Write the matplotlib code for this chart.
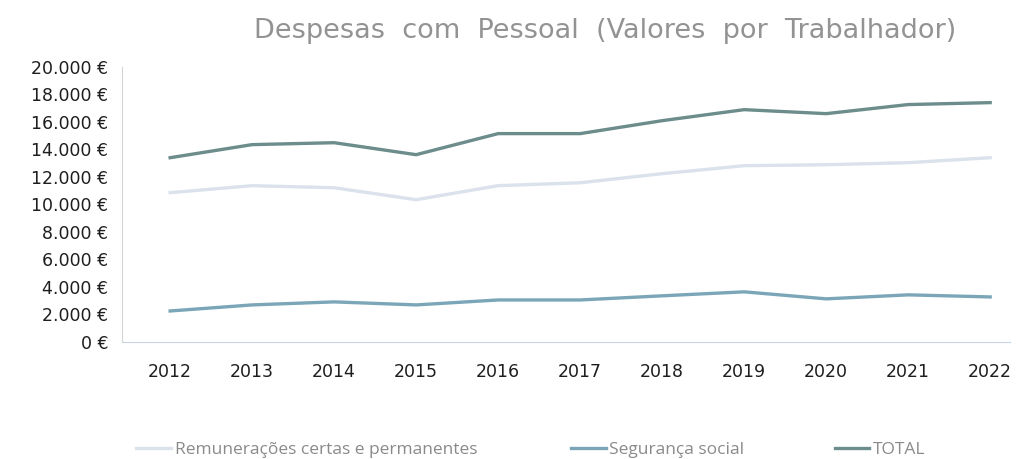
import matplotlib
matplotlib.use("Agg")
import matplotlib.pyplot as plt
from matplotlib.ticker import FuncFormatter

years = [2012, 2013, 2014, 2015, 2016, 2017, 2018, 2019, 2020, 2021, 2022]
remuneracoes = [10840, 11350, 11200, 10330, 11350, 11560, 12220, 12800, 12870, 13020, 13380]
seguranca = [2250, 2690, 2910, 2690, 3050, 3050, 3350, 3640, 3130, 3420, 3270]
total = [13380, 14330, 14470, 13600, 15130, 15130, 16070, 16870, 16580, 17240, 17380]
labels = ["Remunerações certas e permanentes", "Segurança social", "TOTAL"]
title = "Despesas com Pessoal (Valores por Trabalhador)"

fig = plt.figure(figsize=(10.18, 4.59), dpi=100)
ax = fig.add_axes([0.12, 0.255, 0.872, 0.60])

x = list(range(len(years)))
l1, = ax.plot(x, remuneracoes, color="#dbe2ec", lw=2.4)
l2, = ax.plot(x, seguranca, color="#7ba6b8", lw=2.4)
l3, = ax.plot(x, total, color="#6d8c8c", lw=2.4)

ax.set_ylim(0, 20000)
ax.set_yticks(range(0, 20001, 2000))
ax.yaxis.set_major_formatter(FuncFormatter(lambda v, p: (f"{int(v):,}".replace(",", ".")) + " €"))
ax.set_xlim(-0.585, 10.24)
ax.set_xticks(x)
ax.set_xticklabels([str(y) for y in years])

for s in ["top", "right"]:
    ax.spines[s].set_visible(False)
ax.spines["left"].set_color("#d4d4d4")
ax.spines["bottom"].set_color("#c8d4e4")
ax.tick_params(axis="both", length=0)
ax.tick_params(axis="y", pad=10, labelsize=12.5, labelcolor="#1e1e1e")
ax.tick_params(axis="x", pad=15, labelsize=12.5, labelcolor="#1e1e1e")
for t in ax.get_yticklabels() + ax.get_xticklabels():
    t.set_fontfamily("DejaVu Sans")

fig.text(0.594, 0.932, title.replace(" ", "  "), ha="center", va="center", fontsize=19.5,
         color="#939393", family="DejaVu Sans")

positions = [0.134, 0.561, 0.82]
for h, lab, px in zip([l1, l2, l3], labels, positions):
    leg = fig.legend([h], [lab], loc="center left", bbox_to_anchor=(px, 0.02),
                     frameon=False, handlelength=2.0, handletextpad=0.2,
                     borderaxespad=0, borderpad=0,
                     prop={"family": "Open Sans", "size": 12.5})
    for t in leg.get_texts():
        t.set_color("#8a8a8a")

fig.savefig("out.png", dpi=100, facecolor="white")
